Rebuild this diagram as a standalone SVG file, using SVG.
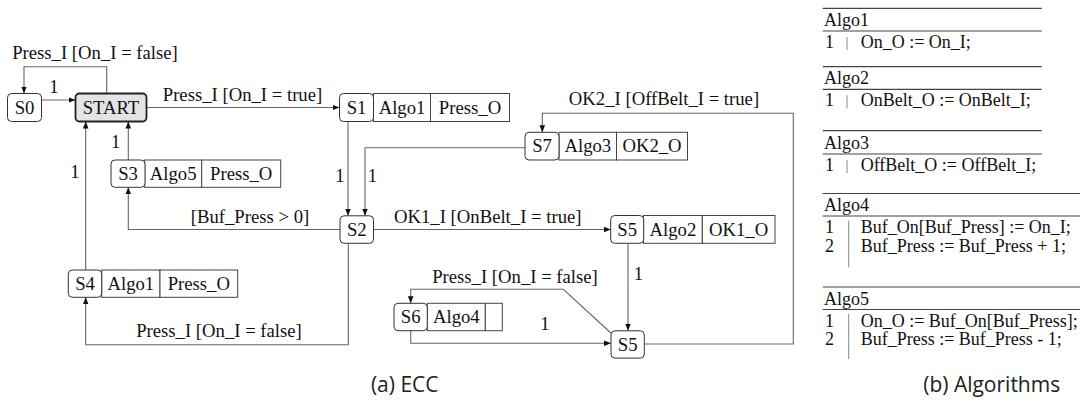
<svg xmlns="http://www.w3.org/2000/svg" width="1081" height="400" viewBox="0 0 1081 400">
<style>
.st{fill:#fff;stroke:#333;stroke-width:1}
.start{fill:#e4e4e4;stroke:#222;stroke-width:1.8}
.cell{fill:#fff;stroke:#444;stroke-width:1}
.t{font-family:"Liberation Serif","Times New Roman",serif;font-size:18.7px;fill:#111}
.tc{text-anchor:middle}
.c{fill:none;stroke:#666;stroke-width:1.1}
.rule{stroke:#444;stroke-width:1.2}
.bar{stroke:#888;stroke-width:1}
.a{font-family:"Liberation Serif","Times New Roman",serif;font-size:18px;fill:#111}
.cap{font-family:"Open Sans","Noto Sans",sans-serif;font-size:21px;fill:#222;text-anchor:middle}
</style>
<defs>
<marker id="ar" viewBox="0 0 10 10" refX="10" refY="5" markerWidth="7" markerHeight="7" markerUnits="userSpaceOnUse" orient="auto">
<path d="M0,1 L10,5 L0,9 z" fill="#111"/>
</marker>
</defs>

<g id="connectors">
<path class="c" d="M106.7 93.5 V66.7 H24 V93.5" marker-end="url(#ar)"/>
<text class="t tc" x="95" y="59">Press_I [On_I = false]</text>
<path class="c" d="M41.5 100 H75.5" marker-end="url(#ar)"/>
<text class="t tc" x="54" y="93">1</text>
<path class="c" d="M146.5 107.5 H339.5" marker-end="url(#ar)"/>
<text class="t tc" x="242.5" y="101">Press_I [On_I = true]</text>
<path class="c" d="M348 121.5 V215.8" marker-end="url(#ar)"/>
<text class="t tc" x="340" y="182">1</text>
<path class="c" d="M525 147.7 H365 V215.8" marker-end="url(#ar)"/>
<text class="t tc" x="372.3" y="182">1</text>
<path class="c" d="M340 229.5 H128.3 V187.3" marker-end="url(#ar)"/>
<text class="t tc" x="250" y="222.7">[Buf_Press &gt; 0]</text>
<path class="c" d="M128.3 160 V121.5" marker-end="url(#ar)"/>
<text class="t tc" x="115.7" y="147.7">1</text>
<path class="c" d="M85.7 270 V121.5" marker-end="url(#ar)"/>
<text class="t tc" x="75" y="178">1</text>
<path class="c" d="M348.3 243.3 V344.7 H85.7 V297.3" marker-end="url(#ar)"/>
<text class="t tc" x="219" y="337.3">Press_I [On_I = false]</text>
<path class="c" d="M373.5 229.5 H610.7" marker-end="url(#ar)"/>
<text class="t tc" x="487.8" y="223.3">OK1_I [OnBelt_I = true]</text>
<path class="c" d="M628 243.3 V330.8" marker-end="url(#ar)"/>
<text class="t tc" x="638.3" y="279.5">1</text>
<path class="c" d="M612 334 L563.3 289.3 H410.7 V303.3" marker-end="url(#ar)"/>
<text class="t tc" x="515" y="282.7">Press_I [On_I = false]</text>
<path class="c" d="M410.7 330.7 V343.3 H611" marker-end="url(#ar)"/>
<text class="t tc" x="545" y="329.5">1</text>
<path class="c" d="M644.3 344 H793.3 V113.3 H542.3 V132.3" marker-end="url(#ar)"/>
<text class="t tc" x="664" y="105">OK2_I [OffBelt_I = true]</text>
</g>

<g id="S0">
<rect class="st" x="7.5" y="93.5" width="34" height="28" rx="4"/>
<text class="t tc" x="24.5" y="113.7">S0</text>
</g>
<g id="START">
<rect class="start" x="75.5" y="93.5" width="71" height="28" rx="4"/>
<text class="t tc" x="111" y="113.7">START</text>
</g>
<g id="S1">
<rect class="cell" x="373.5" y="93.5" width="57" height="28"/>
<rect class="cell" x="430.5" y="93.5" width="79" height="28"/>
<rect class="st" x="339.5" y="93.5" width="34" height="28" rx="4"/>
<text class="t tc" x="356.5" y="113.7">S1</text>
<text class="t tc" x="402" y="113.7">Algo1</text>
<text class="t tc" x="470" y="113.7">Press_O</text>
</g>
<g id="S7">
<rect class="cell" x="559" y="132.3" width="57.5" height="27.7"/>
<rect class="cell" x="616.5" y="132.3" width="71" height="27.7"/>
<rect class="st" x="525" y="132.3" width="34" height="27.7" rx="4"/>
<text class="t tc" x="542" y="152.4">S7</text>
<text class="t tc" x="587.8" y="152.4">Algo3</text>
<text class="t tc" x="652" y="152.4">OK2_O</text>
</g>
<g id="S3">
<rect class="cell" x="144.7" y="160" width="57" height="27.3"/>
<rect class="cell" x="201.7" y="160" width="79" height="27.3"/>
<rect class="st" x="111" y="160" width="34" height="27.3" rx="4"/>
<text class="t tc" x="128" y="179.9">S3</text>
<text class="t tc" x="173.2" y="179.9">Algo5</text>
<text class="t tc" x="241.2" y="179.9">Press_O</text>
</g>
<g id="S2">
<rect class="st" x="340" y="215.8" width="33.5" height="27.5" rx="4"/>
<text class="t tc" x="356.8" y="235.7">S2</text>
</g>
<g id="S5a">
<rect class="cell" x="643.5" y="215.5" width="58.8" height="27.8"/>
<rect class="cell" x="702.3" y="215.5" width="72.7" height="27.8"/>
<rect class="st" x="610.7" y="215.5" width="33" height="27.8" rx="4"/>
<text class="t tc" x="627.2" y="235.6">S5</text>
<text class="t tc" x="672.9" y="235.6">Algo2</text>
<text class="t tc" x="738.6" y="235.6">OK1_O</text>
</g>
<g id="S4">
<rect class="cell" x="101.7" y="270" width="58.3" height="27.3"/>
<rect class="cell" x="160" y="270" width="77.7" height="27.3"/>
<rect class="st" x="68.3" y="270" width="33.4" height="27.3" rx="4"/>
<text class="t tc" x="85" y="289.9">S4</text>
<text class="t tc" x="130.8" y="289.9">Algo1</text>
<text class="t tc" x="198.8" y="289.9">Press_O</text>
</g>
<g id="S6">
<rect class="cell" x="427.3" y="303.3" width="58" height="27.4"/>
<rect class="cell" x="485.3" y="303.3" width="17" height="27.4"/>
<rect class="st" x="394" y="303.3" width="33.3" height="27.4" rx="4"/>
<text class="t tc" x="410.7" y="323.2">S6</text>
<text class="t tc" x="456.3" y="323.2">Algo4</text>
</g>
<g id="S5b">
<rect class="st" x="611" y="330.8" width="33.3" height="27.3" rx="4"/>
<text class="t tc" x="627.7" y="350.7">S5</text>
</g>

<g id="algorithms">
<line class="rule" x1="822.7" y1="8.3" x2="1041.7" y2="8.3"/>
<text class="a" x="824" y="26">Algo1</text>
<line class="rule" x1="822.7" y1="31" x2="1041.7" y2="31"/>
<text class="a" x="825" y="48">1</text>
<line class="bar" x1="847" y1="37" x2="847" y2="50"/>
<text class="a" x="860.7" y="48">On_O := On_I;</text>

<line class="rule" x1="822.7" y1="66.7" x2="1041.7" y2="66.7"/>
<text class="a" x="824" y="84.3">Algo2</text>
<line class="rule" x1="822.7" y1="89.3" x2="1041.7" y2="89.3"/>
<text class="a" x="825" y="106.3">1</text>
<line class="bar" x1="847" y1="95.3" x2="847" y2="108.3"/>
<text class="a" x="860.7" y="106.3">OnBelt_O := OnBelt_I;</text>

<line class="rule" x1="822.7" y1="130.7" x2="1041.7" y2="130.7"/>
<text class="a" x="824" y="149">Algo3</text>
<line class="rule" x1="822.7" y1="154" x2="1041.7" y2="154"/>
<text class="a" x="825" y="171">1</text>
<line class="bar" x1="847" y1="160" x2="847" y2="173"/>
<text class="a" x="860.7" y="171">OffBelt_O := OffBelt_I;</text>

<line class="rule" x1="822.7" y1="193.5" x2="1080" y2="193.5"/>
<text class="a" x="824" y="211">Algo4</text>
<line class="rule" x1="822.7" y1="216" x2="1080" y2="216"/>
<text class="a" x="825" y="233">1</text>
<text class="a" x="825" y="251.5">2</text>
<line class="bar" x1="848.7" y1="220.7" x2="848.7" y2="267.3"/>
<text class="a" x="860.7" y="233">Buf_On[Buf_Press] := On_I;</text>
<text class="a" x="860.7" y="251.5">Buf_Press := Buf_Press + 1;</text>

<line class="rule" x1="822.7" y1="287" x2="1080" y2="287"/>
<text class="a" x="824" y="304.5">Algo5</text>
<line class="rule" x1="822.7" y1="309.5" x2="1080" y2="309.5"/>
<text class="a" x="825" y="326.5">1</text>
<text class="a" x="825" y="345">2</text>
<line class="bar" x1="848.7" y1="314" x2="848.7" y2="359"/>
<text class="a" x="860.7" y="326.5">On_O := Buf_On[Buf_Press];</text>
<text class="a" x="860.7" y="345">Buf_Press := Buf_Press - 1;</text>
</g>

<text class="cap" x="404.7" y="392">(a) ECC</text>
<text class="cap" x="991.7" y="392">(b) Algorithms</text>
</svg>
